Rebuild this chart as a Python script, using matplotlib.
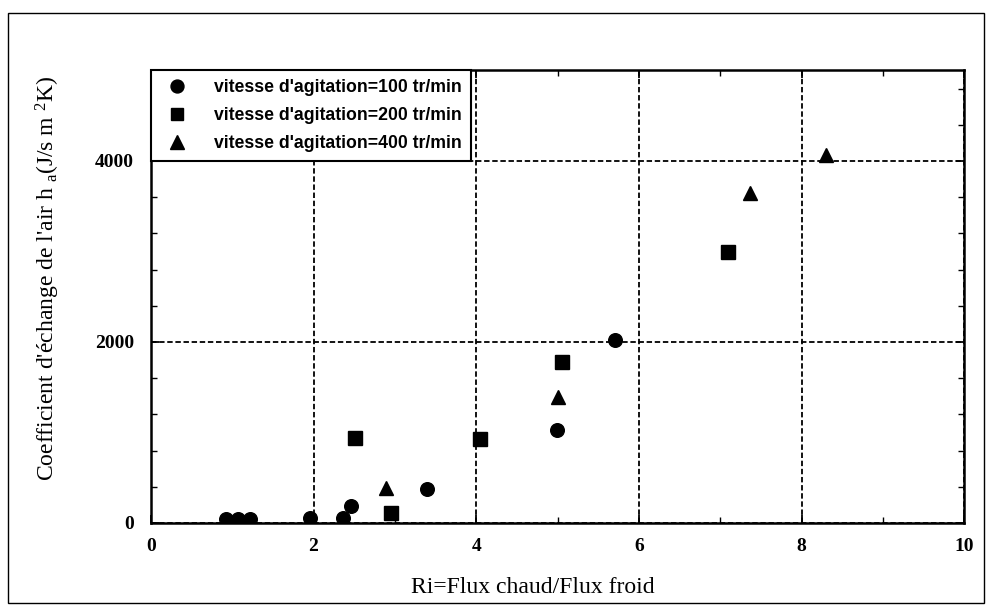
import matplotlib
matplotlib.use("Agg")
import matplotlib.pyplot as plt
from matplotlib.patches import Rectangle
from matplotlib.ticker import MultipleLocator

# Heat exchange coefficient of air vs. hot/cold flux ratio
ri_100 = [0.92, 1.07, 1.22, 1.96, 2.36, 2.46, 3.39, 4.99, 5.71]
h_100 = [40, 40, 40, 50, 50, 190, 375, 1030, 2020]

ri_200 = [2.51, 2.95, 4.05, 5.06, 7.10]
h_200 = [940, 110, 930, 1780, 2995]

ri_400 = [2.89, 5.00, 7.36, 8.30]
h_400 = [385, 1390, 3650, 4070]

labels = ["vitesse d'agitation=100 tr/min",
          "vitesse d'agitation=200 tr/min",
          "vitesse d'agitation=400 tr/min"]

plt.rcParams["mathtext.fontset"] = "custom"
plt.rcParams["mathtext.rm"] = "Liberation Serif"
plt.rcParams["mathtext.it"] = "Liberation Serif"

fig = plt.figure(figsize=(9.86, 6.15), dpi=100)
ax = fig.add_axes([0.153, 0.1496, 0.825, 0.7358])

ax.plot(ri_100, h_100, "o", color="black", ms=9.8, label=labels[0], zorder=3)
ax.plot(ri_200, h_200, "s", color="black", ms=9.8, label=labels[1], zorder=3)
ax.plot(ri_400, h_400, "^", color="black", ms=10.5, label=labels[2], zorder=3)

ax.set_xlim(0, 10)
ax.set_ylim(0, 5000)
ax.xaxis.set_major_locator(MultipleLocator(2))
ax.xaxis.set_minor_locator(MultipleLocator(1))
ax.yaxis.set_major_locator(MultipleLocator(2000))
ax.yaxis.set_minor_locator(MultipleLocator(400))

ax.grid(True, which="major", color="black", linestyle=(0, (3, 1.5)), linewidth=1.3)
ax.tick_params(which="both", direction="in", top=True, right=True,
               labeltop=False, labelright=False, color="black")
ax.tick_params(which="major", length=6, width=1.3)
ax.tick_params(which="minor", length=4, width=1.0)
ax.tick_params(axis="x", pad=11)
ax.tick_params(axis="y", pad=12)
for spine in ax.spines.values():
    spine.set_linewidth(1.8)

for lab in ax.get_xticklabels() + ax.get_yticklabels():
    lab.set_fontfamily("Liberation Serif")
    lab.set_fontsize(14)
    lab.set_fontweight("bold")

ax.set_xlabel("Ri=Flux chaud/Flux froid", family="Liberation Serif", fontsize=17)
ax.xaxis.set_label_coords(0.47, -0.119)
ax.set_ylabel(r"Coefficient d'échange de l'air h $_{\mathrm{a}}$(J/s m $^{\mathrm{2}}$K)",
              family="Liberation Serif", fontsize=17)
ax.yaxis.set_label_coords(-0.109, 0.54)

leg = ax.legend(loc="upper left", bbox_to_anchor=(0, 1), borderaxespad=0,
                frameon=True, fancybox=False, framealpha=1, edgecolor="black",
                prop={"family": "Liberation Sans", "weight": "bold", "size": 12.7},
                handletextpad=1.1, labelspacing=0.62, borderpad=0.5,
                handlelength=2.0, markerscale=0.95)
leg.get_frame().set_linewidth(1.5)
leg.set_zorder(5)

# Page frame around the figure
fig.patches.append(Rectangle((8 / 986, 1 - 603 / 615), 976 / 986, 590 / 615,
                             transform=fig.transFigure, fill=False,
                             edgecolor="black", linewidth=1.0))

fig.savefig("out.png", dpi=100)
